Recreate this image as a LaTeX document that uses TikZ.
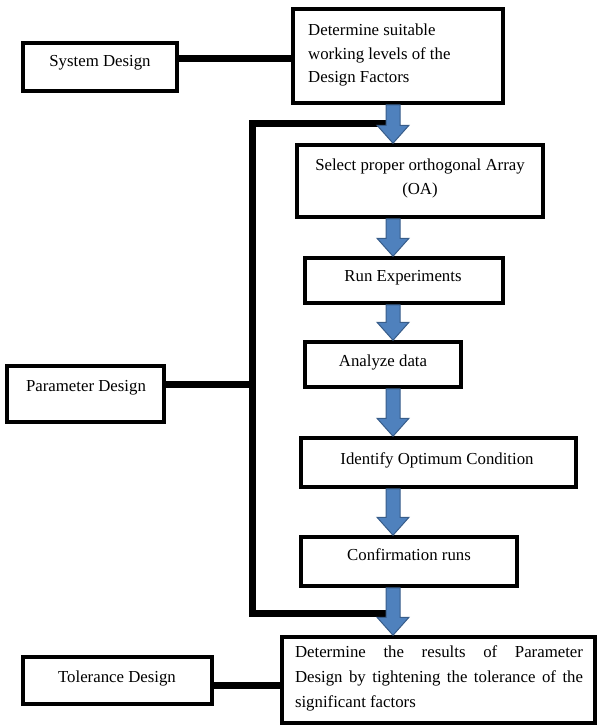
\documentclass[tikz,border=0pt]{standalone}
\usepackage{fontspec}
\setmainfont{Liberation Serif}
\usetikzlibrary{calc}
\definecolor{arrfill}{HTML}{4F81BD}
\definecolor{arrline}{HTML}{385D8A}
\newcommand\blkarrow[2]{%
\draw[blockarr] ([xshift=-7pt]ax|-#1.south) -- ([xshift=-7pt,yshift=18pt]ax|-#2.north) -- ([xshift=-16pt,yshift=18pt]ax|-#2.north) -- (ax|-#2.north) -- ([xshift=16pt,yshift=18pt]ax|-#2.north) -- ([xshift=7pt,yshift=18pt]ax|-#2.north) -- ([xshift=7pt]ax|-#1.south) -- cycle;}
\begin{document}
\begin{tikzpicture}[x=1pt,y=-1pt,
  box/.style={draw=black,line width=3.5pt,fill=white,inner sep=0pt},
  txt/.style={inner sep=0pt,font=\fontsize{16.8}{23.5}\selectfont},
  conn/.style={line width=7pt,draw=black},
  blockarr/.style={fill=arrfill,draw=arrline,line width=1pt,line join=miter}]
\useasboundingbox (0,0) rectangle (597,726);
% boxes
\node[box,minimum width=154pt,minimum height=48pt] (sys) at (100,67) {};
\node[box,minimum width=210pt,minimum height=94pt] (det) at (398,56) {};
\node[box,minimum width=246pt,minimum height=72pt] (sel) at (420,181) {};
\node[box,minimum width=198pt,minimum height=45pt] (run) at (404,280.5) {};
\node[box,minimum width=156pt,minimum height=45pt] (ana) at (383,364.5) {};
\node[box,minimum width=275pt,minimum height=49pt] (idf) at (438.5,462.5) {};
\node[box,minimum width=216pt,minimum height=49pt] (con) at (409,561.5) {};
\node[box,minimum width=313pt,minimum height=86pt] (fin) at (438.5,680) {};
\node[box,minimum width=157pt,minimum height=56pt] (par) at (85.5,394) {};
\node[box,minimum width=189pt,minimum height=47pt] (tol) at (117.5,680.5) {};
% connectors
\coordinate (ax) at (393,0);
\coordinate (bx) at (252,0);
\coordinate (bt) at (393,123.5);
\coordinate (bb) at (393,613);
\draw[conn] ([yshift=8.5pt]sys.east) -- ([yshift=8.5pt]sys.east -| det.west);
\draw[conn] (bt) -- (bt-|bx) -- (bb-|bx) -- (bb);
\draw[conn] ([yshift=10pt]par.east) -- ([yshift=10pt]par.east -| bx);
\draw[conn] ([yshift=-4.5pt]tol.east) -- ([yshift=-4.5pt]tol.east -| fin.west);
% block arrows
\blkarrow{det}{sel}
\blkarrow{sel}{run}
\blkarrow{run}{ana}
\blkarrow{ana}{idf}
\blkarrow{idf}{con}
\blkarrow{con}{fin}
% texts
\node[txt] (tsys) at (100,63) {System Design};
\node[txt,anchor=west,align=left] (tdet) at (308,55) {Determine suitable\\working levels of the\\Design Factors};
\node[txt,align=center] (tsel) at (420,178.5) {Select proper orthogonal Array\\(OA)};
\node[txt] (trun) at (403,278) {Run Experiments};
\node[txt] (tana) at (383,362) {Analyze data};
\node[txt] (tidf) at (437,460) {Identify Optimum Condition};
\node[txt] (tcon) at (409,555) {Confirmation runs};
\node[txt,text width=288pt,align=justify,font=\fontsize{16.8}{25}\selectfont] (tfin) at (439,678) {Determine the results of Parameter\linebreak Design by tightening the tolerance of the\linebreak significant factors};
\node[txt] (tpar) at (86,388) {Parameter Design};
\node[txt] (ttol) at (117,678) {Tolerance Design};
\end{tikzpicture}
\end{document}
